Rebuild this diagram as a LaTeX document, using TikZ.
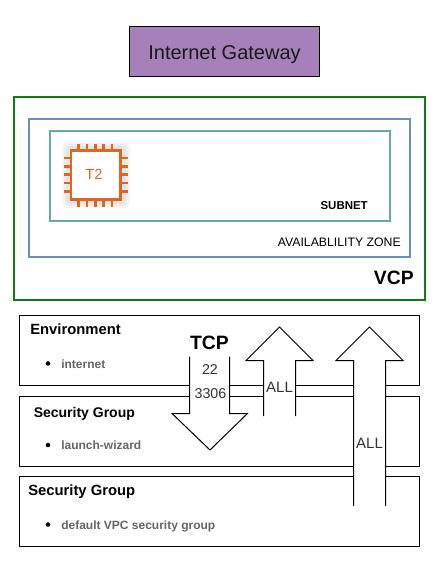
\documentclass[tikz,border=0pt]{standalone}
\usepackage{fontspec}
\setmainfont{Liberation Sans}
\definecolor{gatewayfill}{HTML}{A680B8}
\definecolor{vpcgreen}{HTML}{0E7C16}
\definecolor{zoneblue}{HTML}{6C8EBF}
\definecolor{subnetteal}{HTML}{67AB9F}
\definecolor{chiporange}{HTML}{E0661C}
\definecolor{itemgray}{HTML}{666666}
\tikzset{
  area/.style={draw,rectangle,inner sep=0pt,line width=1.5pt},
  groupbox/.style={draw=black,rectangle,inner sep=0pt,line width=0.75pt,
    minimum width=300pt,minimum height=52.5pt},
  heading/.style={anchor=base west,inner sep=0pt,font=\fontsize{10.5}{12}\selectfont\bfseries},
  item/.style={anchor=base west,inner sep=0pt,text=itemgray,font=\fontsize{9}{11}\selectfont\bfseries},
  dotmark/.style={circle,fill=black,inner sep=0pt,minimum size=3.4pt},
  label/.style={anchor=base,inner sep=0pt,text=black!80,font=\fontsize{10.7}{12}\selectfont},
  caption/.style={anchor=base east,inner sep=0pt,font=\fontsize{9.2}{11}\selectfont},
  blockarrow/.style={draw=black,fill=white,line width=0.75pt,line join=miter},
  pin/.style={draw=chiporange,line width=1.9pt}
}
\begin{document}
\begin{tikzpicture}[x=0.75pt,y=-0.75pt]
    \useasboundingbox (0,0) rectangle (440,572);
    % top of the figure
    \node[area,fill=gatewayfill,line width=0.75pt,minimum width=142.5pt,minimum height=37.5pt] (gateway) at (224.5,51.5) {};
    \node[anchor=base,inner sep=0pt,text=black!90,font=\fontsize{15}{18}\selectfont] (gatewaylabel) at (224.5,59) {Internet Gateway};
    \node[area,draw=vpcgreen,minimum width=307.9pt,minimum height=152.6pt] (vcp) at (219.3,198.3) {};
    \node[area,draw=zoneblue,minimum width=285.8pt,minimum height=103.5pt] (zone) at (219.5,188) {};
    \node[area,draw=subnetteal,minimum width=255.4pt,minimum height=67.5pt] (subnet) at (219.8,175.5) {};
    \node[caption,font=\fontsize{14.5}{16}\selectfont\bfseries] (vcplabel) at (414,284) {VCP};
    \node[caption] (zonelabel) at (401,246) {AVAILABLILITY ZONE};
    \node[caption,font=\fontsize{8.6}{11}\selectfont\bfseries] (subnetlabel) at (368,209) {SUBNET};
    % chip
    \foreach \grow in {0,2,4} {
      \fill[black,opacity=0.035,rounded corners=4pt] (62+\grow,142+\grow) rectangle (130-\grow,208-\grow);
    }
    \foreach \pos in {78.7,87,95.4,103.7,112} {
      \draw[pin] (\pos,143.5) -- (\pos,150.5);
      \draw[pin] (\pos,199.5) -- (\pos,206.5);
    }
    \foreach \pos in {158,166.3,174.7,183,191.3} {
      \draw[pin] (64,\pos) -- (71.5,\pos);
      \draw[pin] (120,\pos) -- (128,\pos);
    }
    \node[draw=chiporange,fill=white,line width=1.9pt,inner sep=0pt,minimum size=37pt] (chip) at (95.8,175) {};
    \node[anchor=base,inner sep=0pt,text=chiporange,font=\fontsize{11}{12}\selectfont] (chiplabel) at (94,179) {T2};
    % lower boxes
    \node[groupbox] (environment) at (219.5,350.5) {};
    \node[groupbox] (wizard) at (219.5,431.5) {};
    \node[groupbox] (default) at (219.5,511.5) {};
    \node[heading,font=\fontsize{11.1}{13}\selectfont\bfseries] (envhead) at (30,334) {Environment};
    \node[dotmark] (envdot) at (48,363.5) {};
    \node[item] (envitem) at (61,368) {internet};
    \node[heading] (wizardhead) at (33.5,417) {Security Group};
    \node[dotmark] (wizarddot) at (48,445) {};
    \node[item] (wizarditem) at (61,449) {launch-wizard};
    \node[heading,font=\fontsize{11.1}{13}\selectfont\bfseries] (defaulthead) at (28,495) {Security Group};
    \node[dotmark] (defaultdot) at (48,524.5) {};
    \node[item] (defaultitem) at (61,529) {default VPC security group};
    % block arrows
    \draw[blockarrow] (189.5,356.5) -- (189.5,413.5) -- (172,413.5) -- (210,450)
      -- (247.5,413.5) -- (229.5,413.5) -- (229.5,356.5);
    \draw[blockarrow] (263.5,416) -- (263.5,360.5) -- (246,360.5) -- (279.5,327)
      -- (313,360.5) -- (295.5,360.5) -- (295.5,416);
    \draw[blockarrow] (353.5,506) -- (353.5,360.5) -- (336,360.5) -- (369.5,327)
      -- (403,360.5) -- (385.5,360.5) -- (385.5,506);
    \node[anchor=base,inner sep=0pt,font=\fontsize{14.5}{16}\selectfont\bfseries] (tcp) at (209.5,349) {TCP};
    \node[label] (porta) at (210,374) {22};
    \node[label] (portb) at (210.5,398) {3306};
    \node[label,font=\fontsize{11.25}{13}\selectfont] (allnear) at (279.5,392) {ALL};
    \node[label,font=\fontsize{11.25}{13}\selectfont] (allfar) at (369.5,448) {ALL};
  \end{tikzpicture}
\end{document}
